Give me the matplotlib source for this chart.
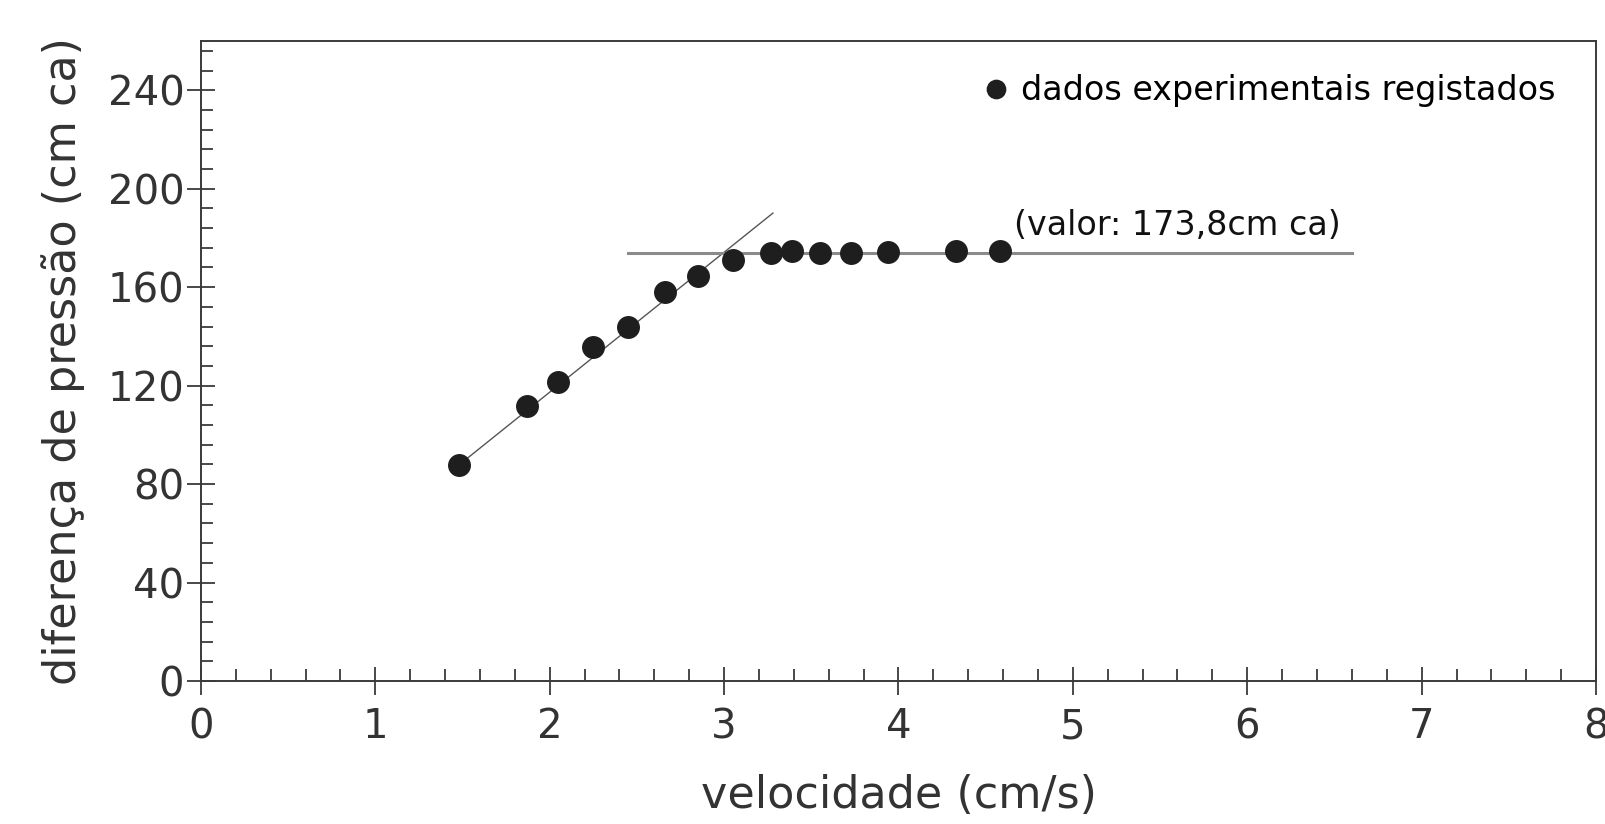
import numpy as np
import matplotlib
matplotlib.use("Agg")
import matplotlib.pyplot as plt
from matplotlib.ticker import MultipleLocator

# dados
velocidade = [1.48, 1.87, 2.05, 2.25, 2.45, 2.66, 2.85, 3.05,
              3.27, 3.39, 3.55, 3.73, 3.94, 4.33, 4.58]
pressao = [87.8, 111.8, 121.6, 135.6, 143.9, 157.9, 164.5, 171.0,
           173.8, 174.7, 173.8, 173.8, 174.4, 174.7, 174.7]

# recta de ajuste inicial e patamar
recta_x = [1.48, 3.28]
recta_y = [87.8, 190.1]
patamar_x = [2.45, 6.60]
patamar_valor = 173.8

cor = "#3a3a3a"

fig = plt.figure(figsize=(16.05, 8.24), dpi=100)
ax = fig.add_axes([0.1252, 0.1735, 0.8692, 0.7767])

ax.plot(recta_x, recta_y, color="#555555", lw=1.0, zorder=2)
ax.plot(patamar_x, [patamar_valor, patamar_valor], color="#8a8a8a", lw=2.2, zorder=2)
ax.plot(velocidade, pressao, "o", color="#1e1e1e", ms=15.5, zorder=3,
        label="dados experimentais registados")

ax.text(4.66, 178.5, "(valor: 173,8cm ca)", fontsize=24, color="#111111",
        ha="left", va="bottom")

ax.set_xlim(0, 8)
ax.set_ylim(0, 260)
ax.xaxis.set_major_locator(MultipleLocator(1))
ax.xaxis.set_minor_locator(MultipleLocator(0.2))
ax.yaxis.set_major_locator(MultipleLocator(40))
ax.yaxis.set_minor_locator(MultipleLocator(8))

ax.tick_params(which="major", direction="inout", length=20, width=1.3, color=cor,
               labelsize=29, labelcolor="#333333")
ax.tick_params(axis="x", which="major", pad=9)
ax.tick_params(axis="y", which="major", pad=2)
ax.tick_params(which="minor", direction="in", length=8.5, width=1.3, color=cor)

for s in ax.spines.values():
    s.set_color(cor)
    s.set_linewidth(1.4)

ax.set_xlabel("velocidade (cm/s)", fontsize=32, color="#333333", labelpad=-4)
ax.set_ylabel("diferença de pressão (cm ca)", fontsize=32, color="#333333", labelpad=16)
ax.xaxis.set_label_coords(0.5, -0.145)

leg = ax.legend(loc="center right", bbox_to_anchor=(0.9713, 0.922), frameon=False,
                fontsize=24, handlelength=0.6, handletextpad=0.45, markerscale=0.85,
                borderaxespad=0, borderpad=0)

fig.savefig("out.png", dpi=100)
